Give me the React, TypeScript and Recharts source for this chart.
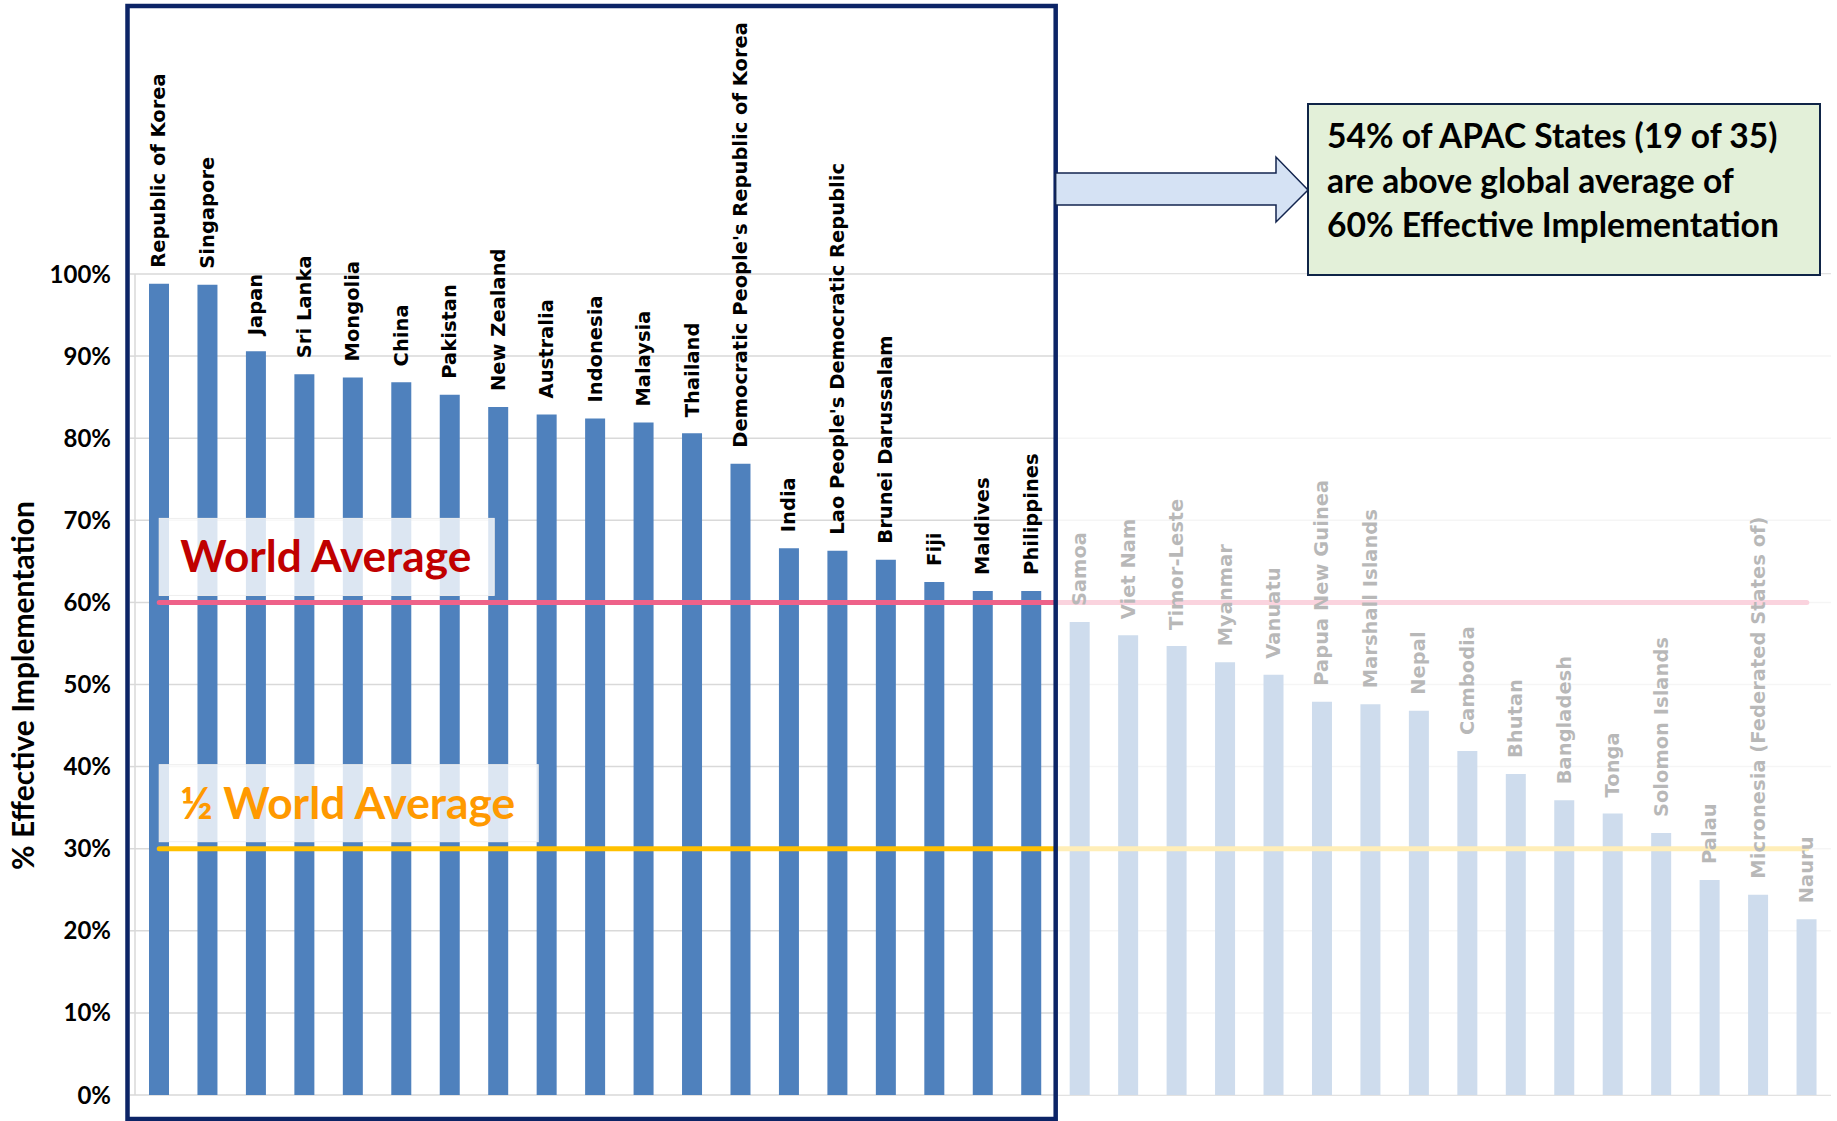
import React from "react";
import {
  ComposedChart,
  Bar,
  Line,
  XAxis,
  YAxis,
  CartesianGrid,
  ReferenceArea,
  LabelList,
  Label,
} from "recharts";

// Effective implementation by APAC State, sorted high to low
const countries = [
  "Republic of Korea",
  "Singapore",
  "Japan",
  "Sri Lanka",
  "Mongolia",
  "China",
  "Pakistan",
  "New Zealand",
  "Australia",
  "Indonesia",
  "Malaysia",
  "Thailand",
  "Democratic People's Republic of Korea",
  "India",
  "Lao People's Democratic Republic",
  "Brunei Darussalam",
  "Fiji",
  "Maldives",
  "Philippines",
  "Samoa",
  "Viet Nam",
  "Timor-Leste",
  "Myanmar",
  "Vanuatu",
  "Papua New Guinea",
  "Marshall Islands",
  "Nepal",
  "Cambodia",
  "Bhutan",
  "Bangladesh",
  "Tonga",
  "Solomon Islands",
  "Palau",
  "Micronesia (Federated States of)",
  "Nauru",
];

const implementation = [
  98.8, 98.7, 90.6, 87.8, 87.4, 86.8, 85.3, 83.8, 82.9, 82.4, 81.9, 80.6, 76.9,
  66.6, 66.3, 65.2, 62.5, 61.4, 61.4, 57.6, 56.0, 54.7, 52.7, 51.2, 47.9, 47.6,
  46.8, 41.9, 39.1, 35.9, 34.3, 31.9, 26.2, 24.4, 21.4,
];

const WORLD_AVERAGE = 60;
const yTicks = [0, 10, 20, 30, 40, 50, 60, 70, 80, 90, 100];

const chartData = countries.map((name, i) => ({
  name,
  value: implementation[i],
  world: WORLD_AVERAGE,
  half: WORLD_AVERAGE / 2,
}));

const aboveCount = implementation.filter((v) => v > WORLD_AVERAGE).length;
const abovePct = Math.round((aboveCount / countries.length) * 100);

const W = 1837;
const H = 1121;
const Y_AXIS_W = 135;
const MARGIN = { top: 274, right: 6, bottom: 26, left: 0 };
const band = (W - MARGIN.right - Y_AXIS_W) / countries.length;
const boxRight = Y_AXIS_W + band * aboveCount;

const BAR_BLUE = "#4f81bd";
const NAVY = "#0c2466";
const LABEL_FONT = "'DejaVu Sans', Verdana, sans-serif";
const TEXT_FONT = "Lato, 'Open Sans', sans-serif";

const pos = (props: any) => {
  const vb = props.viewBox ?? {};
  return {
    x: props.x ?? vb.x,
    y: props.y ?? vb.y,
    width: props.width ?? vb.width ?? 0,
  };
};

const CategoryTag = (props: any) => {
  const { x, y, width } = pos(props);
  const cx = x + width / 2;
  const ty = y - 16;
  return (
    <text
      x={cx}
      y={ty}
      transform={`rotate(-90 ${cx} ${ty})`}
      textAnchor="start"
      dominantBaseline="central"
      fontFamily={LABEL_FONT}
      fontWeight={700}
      fontSize={19.5}
      fill="#000"
    >
      {props.value}
    </text>
  );
};

const averageTag = (text: string, color: string, boxWidth: number, textWidth: number) =>
  (props: any) => {
    if (props.index !== 0) return null;
    const { x, y } = pos(props);
    return (
      <g>
        <rect
          x={x}
          y={y - 84}
          width={boxWidth}
          height={77}
          fill="#fff"
          fillOpacity={0.8}
          stroke="#eeeeee"
          strokeWidth={1}
        />
        <text
          x={x + 21}
          y={y - 30}
          fill={color}
          fontFamily={TEXT_FONT}
          fontWeight={700}
          fontSize={43}
          textLength={textWidth}
          lengthAdjust="spacingAndGlyphs"
        >
          {text}
        </text>
      </g>
    );
  };

const YTitle = (props: any) => {
  const vb = props.viewBox ?? { x: 0, y: 0, height: 0 };
  const cx = vb.x + 22;
  const cy = vb.y + vb.height / 2 + 1;
  return (
    <text
      x={cx}
      y={cy}
      transform={`rotate(-90 ${cx} ${cy})`}
      textAnchor="middle"
      dominantBaseline="central"
      fontFamily={TEXT_FONT}
      fontWeight={700}
      fontSize={30}
      fill="#000"
    >
      % Effective Implementation
    </text>
  );
};

const calloutLines = [
  `${abovePct}% of APAC States (${aboveCount} of ${countries.length})`,
  "are above global average of",
  `${WORLD_AVERAGE}% Effective Implementation`,
];

const Annotations = () => (
  <svg
    width={W}
    height={H}
    style={{ position: "absolute", left: 0, top: 0, pointerEvents: "none" }}
  >
    <rect
      x={127.5}
      y={6}
      width={boxRight - 127.5}
      height={1113}
      fill="none"
      stroke={NAVY}
      strokeWidth={4.5}
    />
    <polygon
      points={`${boxRight},173 1276,173 1276,157 1308,190 1276,222 1276,205 ${boxRight},205`}
      fill="#d5e2f4"
      stroke="#13254f"
      strokeWidth={1.5}
    />
    <rect x={1308} y={104} width={512} height={171} fill="#e3f0d9" stroke="#0f2447" strokeWidth={2} />
    {calloutLines.map((line, i) => (
      <text
        key={line}
        x={1327}
        y={148 + i * 44.5}
        fontFamily={TEXT_FONT}
        fontWeight={700}
        fontSize={33.6}
        fill="#000"
      >
        {line}
      </text>
    ))}
  </svg>
);

export default function App() {
  return (
    <div style={{ position: "absolute", left: 0, top: 0, width: W, height: H, background: "#fff" }}>
      <ComposedChart width={W} height={H} data={chartData} margin={MARGIN}>
        <CartesianGrid vertical={false} stroke="#d9d9d9" strokeWidth={1.5} />
        <XAxis dataKey="name" type="category" hide />
        <YAxis
          type="number"
          domain={[0, 100]}
          ticks={yTicks}
          width={Y_AXIS_W}
          tickFormatter={(v: number) => `${v}%`}
          tickSize={5}
          tickMargin={19}
          axisLine={{ stroke: "#d9d9d9", strokeWidth: 1.5 }}
          tickLine={{ stroke: "#d9d9d9", strokeWidth: 1.5 }}
          tick={{ fill: "#000", fontFamily: TEXT_FONT, fontWeight: 700, fontSize: 24 }}
        >
          <Label content={YTitle} />
        </YAxis>
        <Bar dataKey="value" fill={BAR_BLUE} barSize={20} isAnimationActive={false}>
          <LabelList dataKey="name" content={CategoryTag} />
        </Bar>
        <Line
          dataKey="half"
          stroke="#ffc000"
          strokeWidth={5}
          strokeLinecap="round"
          dot={false}
          activeDot={false}
          isAnimationActive={false}
        >
          <LabelList dataKey="half" content={averageTag("½ World Average", "#ff9900", 379, 335)} />
        </Line>
        <Line
          dataKey="world"
          stroke="#ee6289"
          strokeWidth={5}
          strokeLinecap="round"
          dot={false}
          activeDot={false}
          isAnimationActive={false}
        >
          <LabelList dataKey="world" content={averageTag("World Average", "#c00000", 335, 291)} />
        </Line>
        <ReferenceArea
          x1={countries[aboveCount]}
          x2={countries[countries.length - 1]}
          fill="#fff"
          fillOpacity={0.72}
          stroke="none"
          ifOverflow="visible"
          zIndex={5000}
        />
      </ComposedChart>
      <Annotations />
    </div>
  );
}
